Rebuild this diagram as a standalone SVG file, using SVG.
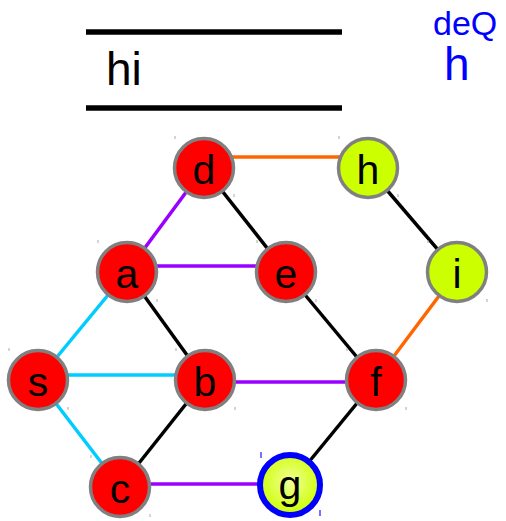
<svg xmlns="http://www.w3.org/2000/svg" width="506" height="521" viewBox="0 0 506 521">
<style>
.n{stroke:#808080;stroke-width:3.5}
.r{fill:#ff0000}
.y{fill:#ccff00}
.t{font-family:"Liberation Sans",Arial,sans-serif;font-size:41px;fill:#000;text-anchor:middle}
.e{stroke-width:3.5;fill:none}
.k{stroke:#000}
.o{stroke:#ff6600}
.p{stroke:#9900ff}
.c{stroke:#00ccff}
.tk{stroke:#aaaaaa;stroke-width:1}
</style>
<defs>
<radialGradient id="gg" cx="50%" cy="45%" r="55%">
<stop offset="0" stop-color="#f2ff9a"/>
<stop offset="1" stop-color="#ccff00"/>
</radialGradient>
</defs>
<rect width="506" height="521" fill="#fff"/>
<g id="header">
<line x1="86" y1="32" x2="342" y2="32" stroke="#000" stroke-width="5.5"/>
<line x1="86" y1="108" x2="342" y2="108" stroke="#000" stroke-width="5.5"/>
<text x="106" y="85" font-family="Liberation Sans,Arial,sans-serif" font-size="46" fill="#000">hi</text>
<text x="433" y="35" font-family="Liberation Sans,Arial,sans-serif" font-size="34" fill="#0000ff">deQ</text>
<text x="444" y="80" font-family="Liberation Sans,Arial,sans-serif" font-size="46" fill="#0000ff">h</text>
</g>
<g id="connectors">
<line class="e o" x1="204" y1="157" x2="368" y2="157"/>
<line class="e p" x1="204" y1="168" x2="127" y2="272"/>
<line class="e k" x1="204" y1="168" x2="286" y2="272"/>
<line class="e k" x1="368" y1="168" x2="457" y2="272"/>
<line class="e p" x1="127" y1="266" x2="286" y2="266"/>
<line class="e c" x1="127" y1="272" x2="38" y2="380"/>
<line class="e k" x1="127" y1="272" x2="205" y2="380"/>
<line class="e k" x1="286" y1="272" x2="376" y2="380"/>
<line class="e o" x1="457" y1="272" x2="376" y2="380"/>
<line class="e c" x1="38" y1="375" x2="205" y2="375"/>
<line class="e p" x1="205" y1="382" x2="376" y2="382"/>
<line class="e c" x1="38" y1="380" x2="120" y2="487"/>
<line class="e k" x1="205" y1="380" x2="120" y2="487"/>
<line class="e k" x1="376" y1="380" x2="290" y2="485"/>
<line class="e p" x1="120" y1="484" x2="290" y2="484"/>
</g>
<g id="node-d"><circle class="n r" cx="204" cy="168" r="29.5"/><text class="t" x="204" y="184">d</text><line class="tk" x1="175" y1="136" x2="175" y2="139"/><line class="tk" x1="234" y1="194" x2="234" y2="197"/></g>
<g id="node-h"><circle class="n y" cx="368" cy="168" r="29.5"/><text class="t" x="368" y="184">h</text><line class="tk" x1="339" y1="136" x2="339" y2="139"/><line class="tk" x1="398" y1="194" x2="398" y2="197"/></g>
<g id="node-a"><circle class="n r" cx="127" cy="272" r="29.5"/><text class="t" x="127" y="288">a</text><line class="tk" x1="98" y1="240" x2="98" y2="243"/><line class="tk" x1="157" y1="299" x2="157" y2="302"/></g>
<g id="node-e"><circle class="n r" cx="286" cy="272" r="29.5"/><text class="t" x="286" y="288">e</text><line class="tk" x1="257" y1="240" x2="257" y2="243"/><line class="tk" x1="316" y1="299" x2="316" y2="302"/></g>
<g id="node-i"><circle class="n y" cx="457" cy="272" r="29.5"/><text class="t" x="457" y="288">i</text><line class="tk" x1="428" y1="240" x2="428" y2="243"/><line class="tk" x1="487" y1="299" x2="487" y2="302"/></g>
<g id="node-s"><circle class="n r" cx="38" cy="380" r="29.5"/><text class="t" x="38" y="396">s</text><line class="tk" x1="9" y1="348" x2="9" y2="351"/><line class="tk" x1="68" y1="407" x2="68" y2="410"/></g>
<g id="node-b"><circle class="n r" cx="205" cy="380" r="29.5"/><text class="t" x="205" y="396">b</text><line class="tk" x1="176" y1="348" x2="176" y2="351"/><line class="tk" x1="235" y1="407" x2="235" y2="410"/></g>
<g id="node-f"><circle class="n r" cx="376" cy="380" r="29.5"/><text class="t" x="376" y="396">f</text><line class="tk" x1="347" y1="348" x2="347" y2="351"/><line class="tk" x1="406" y1="407" x2="406" y2="410"/></g>
<g id="node-c"><circle class="n r" cx="120" cy="487" r="29.5"/><text class="t" x="120" y="503">c</text><line class="tk" x1="91" y1="455" x2="91" y2="458"/><line class="tk" x1="150" y1="514" x2="150" y2="517"/></g>
<g id="node-g"><circle cx="290" cy="485" r="30" fill="url(#gg)" stroke="#0000ff" stroke-width="6"/><text class="t" x="290" y="499">g</text><line x1="261" y1="452" x2="261" y2="458" stroke="#4444ff" stroke-width="1.5"/><line x1="320" y1="510" x2="320" y2="516" stroke="#4444ff" stroke-width="1.5"/></g>
</svg>
